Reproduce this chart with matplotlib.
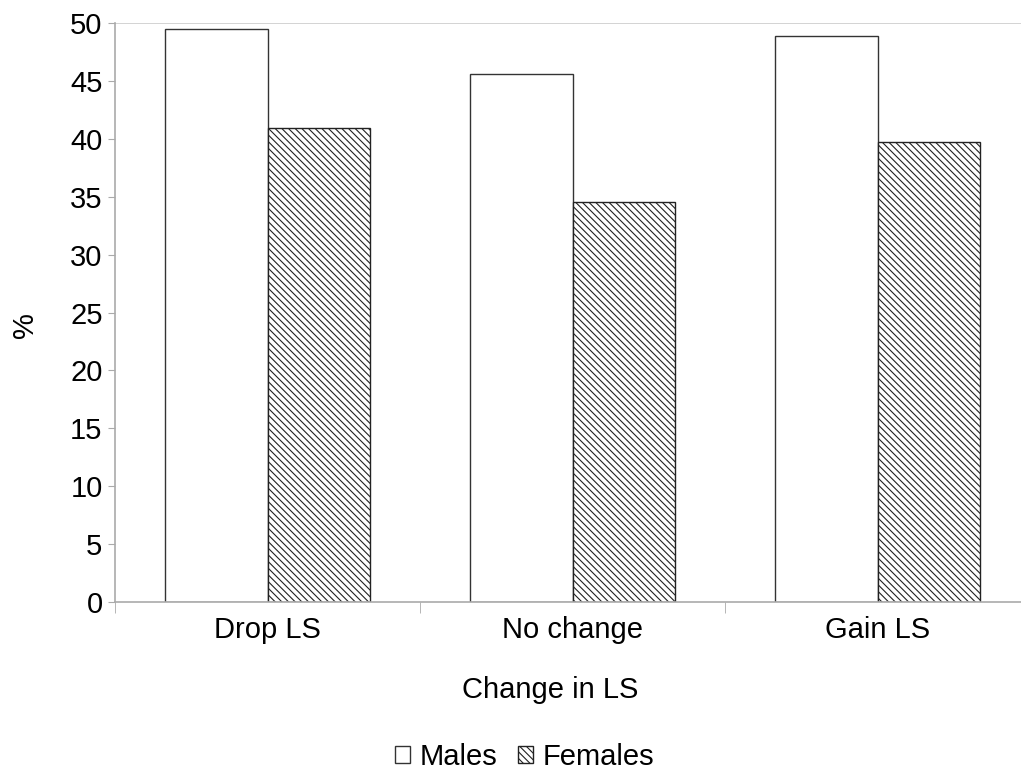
import matplotlib.pyplot as plt
import numpy as np

plt.rcParams['font.family'] = ['Liberation Sans', 'DejaVu Sans']
plt.rcParams['hatch.linewidth'] = 0.8

categories = ['Drop LS', 'No change', 'Gain LS']
males = [49.5, 45.6, 48.9]
females = [40.9, 34.5, 39.7]

fig = plt.figure(figsize=(10.21, 7.74), dpi=100)
# plot area runs a little past the right edge of the picture
ax = fig.add_axes([115 / 1021, 1 - 602 / 774, 915 / 1021, 579 / 774])

x = np.arange(len(categories))
w = 0.335
ax.bar(x - w / 2, males, w, color='white', edgecolor='#333333', linewidth=1.0, label='Males')
ax.bar(x + w / 2, females, w, color='white', edgecolor='#222222', linewidth=1.0,
       hatch='\\' * 5, label='Females')

ax.set_xlim(-0.5, len(categories) - 0.5)
ax.set_ylim(0, 50)
ax.set_yticks(range(0, 51, 5))
ax.tick_params(axis='y', labelsize=21, length=5, color='#aaaaaa', pad=4)
ax.axhline(50, color='#cccccc', linewidth=1.2, zorder=0)

ax.set_xticks(x)
ax.set_xticklabels(categories, fontsize=21)
ax.tick_params(axis='x', length=0, pad=10)
ax.set_xticks(np.arange(-0.5, len(categories), 1), minor=True)
ax.tick_params(axis='x', which='minor', length=8, color='#aaaaaa')

for s in ['top', 'right']:
    ax.spines[s].set_visible(False)
for s in ['left', 'bottom']:
    ax.spines[s].set_color('#aaaaaa')
    ax.spines[s].set_linewidth(1.2)

ax.set_ylabel('%', fontsize=21, va='center', ha='center')
ax.yaxis.set_label_coords(-(115 - 25) / 915, (602 - 325) / 579)
ax.set_xlabel('Change in LS', fontsize=21, va='center', ha='center')
ax.xaxis.set_label_coords((550 - 115) / 915, -(690 - 602) / 579)

fig.legend(loc='center', bbox_to_anchor=(525 / 1021, 1 - 757 / 774), ncol=2, frameon=False,
           fontsize=21, handlelength=0.5, handleheight=0.55, handletextpad=0.35, columnspacing=0.7)

fig.savefig('out.png', dpi=100)
